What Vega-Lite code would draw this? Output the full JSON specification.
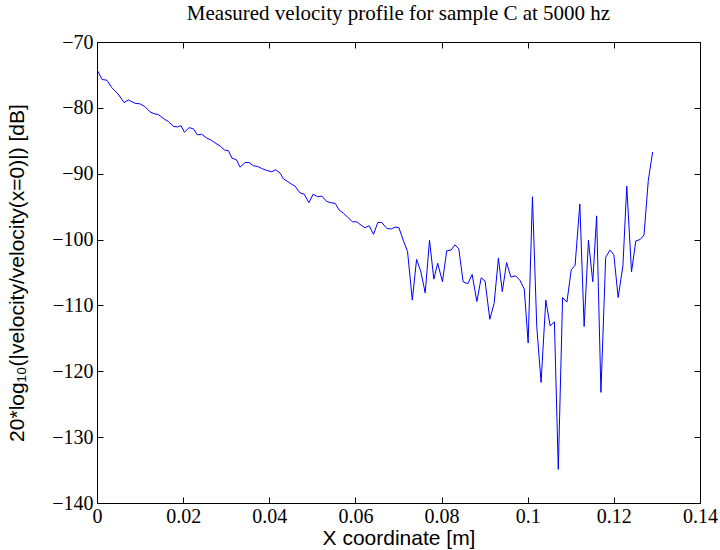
{
  "$schema": "https://vega.github.io/schema/vega-lite/v6.json",
  "autosize": "none",
  "width": 603,
  "height": 461,
  "padding": {"left": 97, "top": 42, "right": 20, "bottom": 47},
  "background": "white",
  "title": {"text": "Measured velocity profile for sample C at 5000 hz", "font": "Liberation Serif", "fontSize": 21, "fontWeight": "normal", "color": "black", "offset": 8, "anchor": "middle"},
  "config": {
    "view": {"stroke": "black", "strokeWidth": 1},
    "axis": {"grid": false, "domainColor": "black", "tickColor": "black", "labelColor": "black", "titleColor": "black", "labelFont": "Liberation Serif", "labelFontSize": 20, "titleFont": "Liberation Sans", "titleFontSize": 21, "titleFontWeight": "normal", "tickSize": -6, "domain": true}
  },
  "data": {"values": [
    {"x": 0, "y": -74.2}, {"x": 0.0012, "y": -75.7}, {"x": 0.0023, "y": -75.8}, {"x": 0.0034, "y": -76.9},
    {"x": 0.0049, "y": -77.9}, {"x": 0.0063, "y": -79.2}, {"x": 0.0073, "y": -78.8}, {"x": 0.0088, "y": -79.3},
    {"x": 0.0100, "y": -79.4}, {"x": 0.0111, "y": -79.8}, {"x": 0.0123, "y": -80.6}, {"x": 0.0133, "y": -80.9},
    {"x": 0.0142, "y": -81.0}, {"x": 0.0154, "y": -81.6}, {"x": 0.0166, "y": -82.1}, {"x": 0.0177, "y": -82.8},
    {"x": 0.0187, "y": -82.9}, {"x": 0.0195, "y": -82.7}, {"x": 0.0203, "y": -83.7}, {"x": 0.0214, "y": -83.0},
    {"x": 0.0224, "y": -83.2}, {"x": 0.0233, "y": -84.1}, {"x": 0.0243, "y": -84.0}, {"x": 0.0255, "y": -84.6},
    {"x": 0.0265, "y": -84.9}, {"x": 0.0276, "y": -85.4}, {"x": 0.0286, "y": -85.8}, {"x": 0.0296, "y": -86.4},
    {"x": 0.0305, "y": -86.5}, {"x": 0.0313, "y": -87.6}, {"x": 0.0324, "y": -87.9}, {"x": 0.0332, "y": -89.0},
    {"x": 0.0344, "y": -88.3}, {"x": 0.0353, "y": -88.3}, {"x": 0.0363, "y": -88.8}, {"x": 0.0373, "y": -88.9},
    {"x": 0.0382, "y": -89.2}, {"x": 0.0394, "y": -89.5}, {"x": 0.0406, "y": -89.7}, {"x": 0.0415, "y": -89.4},
    {"x": 0.0425, "y": -89.9}, {"x": 0.0433, "y": -90.8}, {"x": 0.0443, "y": -91.2}, {"x": 0.0452, "y": -91.6},
    {"x": 0.0460, "y": -91.9}, {"x": 0.0471, "y": -92.9}, {"x": 0.0481, "y": -93.1}, {"x": 0.0492, "y": -94.4},
    {"x": 0.0502, "y": -93.1}, {"x": 0.0512, "y": -93.5}, {"x": 0.0522, "y": -93.4}, {"x": 0.0533, "y": -94.2},
    {"x": 0.0543, "y": -94.4}, {"x": 0.0553, "y": -94.5}, {"x": 0.0562, "y": -95.5}, {"x": 0.0572, "y": -96.0},
    {"x": 0.0582, "y": -96.6}, {"x": 0.0593, "y": -97.3}, {"x": 0.0603, "y": -97.3}, {"x": 0.0613, "y": -97.8},
    {"x": 0.0622, "y": -98.2}, {"x": 0.0632, "y": -97.9}, {"x": 0.0642, "y": -99.2}, {"x": 0.0652, "y": -97.4},
    {"x": 0.0661, "y": -97.4}, {"x": 0.0673, "y": -98.3}, {"x": 0.0683, "y": -98.4}, {"x": 0.0692, "y": -98.1},
    {"x": 0.0701, "y": -98.2}, {"x": 0.0711, "y": -100.1}, {"x": 0.0721, "y": -101.8}, {"x": 0.0732, "y": -109.2},
    {"x": 0.0742, "y": -103.0}, {"x": 0.0752, "y": -104.9}, {"x": 0.0762, "y": -108.1}, {"x": 0.0772, "y": -100.1},
    {"x": 0.0782, "y": -106.0}, {"x": 0.0791, "y": -103.6}, {"x": 0.0802, "y": -106.4}, {"x": 0.0812, "y": -101.7},
    {"x": 0.0822, "y": -101.6}, {"x": 0.0831, "y": -100.8}, {"x": 0.0840, "y": -101.4}, {"x": 0.0850, "y": -106.4},
    {"x": 0.0861, "y": -106.7}, {"x": 0.0871, "y": -105.3}, {"x": 0.0882, "y": -109.4}, {"x": 0.0892, "y": -105.8},
    {"x": 0.0901, "y": -106.3}, {"x": 0.0912, "y": -112.1}, {"x": 0.0922, "y": -109.7}, {"x": 0.0932, "y": -102.8},
    {"x": 0.0941, "y": -107.9}, {"x": 0.0951, "y": -103.5}, {"x": 0.0961, "y": -105.7}, {"x": 0.0972, "y": -105.5},
    {"x": 0.0982, "y": -106.2}, {"x": 0.0992, "y": -107.5}, {"x": 0.1001, "y": -115.7}, {"x": 0.1011, "y": -93.5},
    {"x": 0.1021, "y": -113.2}, {"x": 0.1031, "y": -121.7}, {"x": 0.1042, "y": -109.2}, {"x": 0.1052, "y": -113.1},
    {"x": 0.1062, "y": -112.5}, {"x": 0.1071, "y": -134.9}, {"x": 0.1081, "y": -108.8}, {"x": 0.1091, "y": -109.5},
    {"x": 0.1101, "y": -104.6}, {"x": 0.1110, "y": -103.9}, {"x": 0.1121, "y": -94.6}, {"x": 0.1131, "y": -113.2},
    {"x": 0.1141, "y": -100.1}, {"x": 0.1151, "y": -106.4}, {"x": 0.1160, "y": -96.4}, {"x": 0.1170, "y": -123.2},
    {"x": 0.1181, "y": -102.7}, {"x": 0.1191, "y": -101.6}, {"x": 0.1200, "y": -102.3}, {"x": 0.1210, "y": -108.8},
    {"x": 0.1221, "y": -104.0}, {"x": 0.1230, "y": -91.9}, {"x": 0.1241, "y": -104.9}, {"x": 0.1251, "y": -100.2},
    {"x": 0.1261, "y": -100.0}, {"x": 0.1270, "y": -99.3}, {"x": 0.1280, "y": -91.0}, {"x": 0.1290, "y": -86.7}
  ]},
  "layer": [
    {
      "mark": {"type": "line", "color": "#0000ff", "strokeWidth": 1, "clip": true},
      "encoding": {
        "x": {"field": "x", "type": "quantitative", "scale": {"domain": [0, 0.14], "nice": false, "zero": false},
          "axis": {"orient": "bottom", "values": [0, 0.02, 0.04, 0.06, 0.08, 0.1, 0.12, 0.14], "format": "~g", "title": "X coordinate [m]", "labelPadding": 9, "titlePadding": 1, "labelFlush": false}},
        "y": {"field": "y", "type": "quantitative", "scale": {"domain": [-140, -70], "nice": false, "zero": false},
          "axis": {"orient": "left", "values": [-140, -130, -120, -110, -100, -90, -80, -70], "title": "20*log₁₀(|velocity/velocity(x=0)|) [dB]", "labelPadding": 10, "titlePadding": 24}}
      }
    },
    {
      "mark": {"type": "line", "opacity": 0},
      "encoding": {
        "x": {"field": "x", "type": "quantitative", "axis": {"orient": "top", "values": [0, 0.02, 0.04, 0.06, 0.08, 0.1, 0.12, 0.14], "labels": false, "title": null}},
        "y": {"field": "y", "type": "quantitative", "axis": {"orient": "right", "values": [-140, -130, -120, -110, -100, -90, -80, -70], "labels": false, "title": null}}
      }
    }
  ]
}
